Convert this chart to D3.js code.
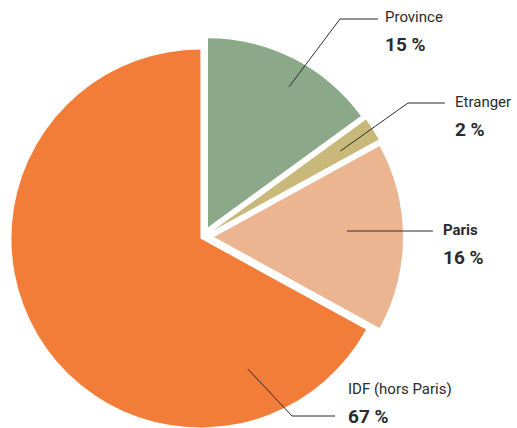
<!DOCTYPE html>
<html>
<head>
<meta charset="utf-8">
<script src="https://cdn.jsdelivr.net/npm/d3@7"></script>
<style>
  body { margin: 0; background: #fff; }
  svg { display: block; font-family: Roboto, "DejaVu Sans Condensed", sans-serif; }
</style>
</head>
<body>
<div id="chart"></div>
<script>
// data, clockwise from 12 o'clock
const categories = ["Province", "Etranger", "Paris", "IDF (hors Paris)"];
const shares = [15, 2, 16, 67];
const colors = ["#8ba888", "#c8b97b", "#ecb592", "#f27d38"];
const boldName = [false, false, true, false];

const width = 517, height = 428;
const cx = 203, cy = 237, radius = 189;
// how far each slice is pulled out of the pie
const explode = [11, 12, 11, 3];

// leader lines: anchor inside the slice (radius, angle in degrees), elbow, end, label pos
const leaders = [
  {r: 162, deg: 30, elbow: [340, 19], end: [378, 19], text: [385, 17]},
  {r: 150, deg: 58, elbow: [408, 103], end: [445, 103], text: [455, 102]},
  {r: 133, deg: 90, elbow: null, end: [433, 231], text: [443, 230]},
  {r: 139, deg: 160, elbow: [292, 416], end: [335, 416], text: [348, 389]}
];

const svg = d3.select("#chart").append("svg")
    .attr("width", width)
    .attr("height", height);

const pie = d3.pie().sort(null).value(d => d);
const arcs = pie(shares);

const arc = d3.arc().innerRadius(0).outerRadius(radius);

function offset(d, i) {
  let mid = (d.startAngle + d.endAngle) / 2;
  return [Math.sin(mid) * explode[i], -Math.cos(mid) * explode[i]];
}

let g = svg.append("g").attr("transform", "translate(" + cx + "," + cy + ")");

g.selectAll("path.slice")
    .data(arcs)
    .enter().append("path")
    .attr("class", "slice")
    .attr("d", arc)
    .attr("fill", (d, i) => colors[i])
    .attr("transform", (d, i) => "translate(" + offset(d, i) + ")");

// leader lines + labels
arcs.forEach(function(d, i) {
  let L = leaders[i];
  let o = offset(d, i);
  let a = L.deg * Math.PI / 180;
  let p0 = [cx + o[0] + Math.sin(a) * L.r, cy + o[1] - Math.cos(a) * L.r];
  if (!L.elbow) p0[1] = L.end[1];
  let pts = [p0];
  if (L.elbow) pts.push(L.elbow);
  pts.push(L.end);
  svg.append("path")
      .attr("d", d3.line()(pts))
      .attr("fill", "none")
      .attr("stroke", "#2b2b2b")
      .attr("stroke-width", 1);

  svg.append("text")
      .attr("x", L.text[0])
      .attr("y", L.text[1])
      .attr("dy", "0.35em")
      .attr("font-size", 15)
      .attr("font-weight", boldName[i] ? "bold" : "normal")
      .attr("fill", "#2b2b2b")
      .text(categories[i]);

  svg.append("text")
      .attr("x", L.text[0])
      .attr("y", L.text[1] + 27)
      .attr("dy", "0.35em")
      .attr("font-size", 19)
      .attr("font-weight", "bold")
      .attr("fill", "#2b2b2b")
      .text(shares[i] + " %");
});
</script>
</body>
</html>
